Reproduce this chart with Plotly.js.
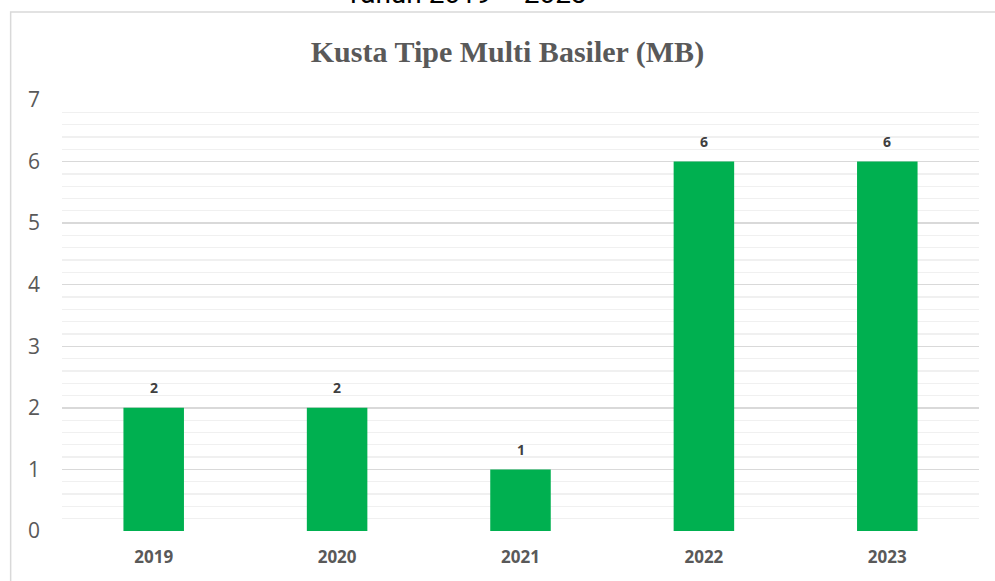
<!DOCTYPE html>
<html><head><meta charset="utf-8">
<script src="https://cdn.plot.ly/plotly-3.0.1.min.js"></script>
<style>html,body{margin:0;padding:0;background:#fff}#c{width:995px;height:581px}</style>
</head><body><div id="c"></div>
<script>
const years = ['2019','2020','2021','2022','2023'];
const cases = [2, 2, 1, 6, 6];
const yTicks = [0,1,2,3,4,5,6,7];

const trace = {
  type:'bar', x: years, y: cases,
  marker:{color:'#00b050'}, width:0.33, hoverinfo:'none'
};
const ann = years.map((yr,i)=>({
  x: i, y: cases[i], xref:'x', yref:'y', text: String(cases[i]), showarrow:false,
  yshift: 20, font:{family:'Open Sans, sans-serif', size:14, color:'#404040', weight:700}
}));
ann.push({xref:'paper', yref:'paper', x:0.4406, y:1.0, xanchor:'center', yanchor:'middle',
  yshift:107, text:'Tahun 2019 \u2013 2023', showarrow:false,
  font:{family:'Roboto, Arial, sans-serif', size:28, color:'#000'}});

const layout = {
  width:995, height:581,
  margin:{l:62, r:16, t:100, b:50},
  paper_bgcolor:'#fff', plot_bgcolor:'#fff',
  title:{text:'<b>Kusta Tipe Multi Basiler (MB)</b>', x:0.51, xanchor:'center', y:0.912, yanchor:'middle',
    font:{family:'Liberation Serif, serif', size:30, color:'#595959'}},
  xaxis:{type:'category', showline:false, ticks:'', showgrid:false, zeroline:false,
    tickfont:{family:'Open Sans, sans-serif', size:17, color:'#595959', weight:700}, ticklabelstandoff:14},
  yaxis:{range:[0,7], tickvals:yTicks, showline:false, ticks:'', zeroline:false,
    gridcolor:'#d9d9d9', gridwidth:1.3,
    minor:{dtick:0.2, showgrid:true, gridcolor:'#f0f0f0', gridwidth:1.3},
    tickfont:{family:'Open Sans, sans-serif', size:21, color:'#595959'}, ticklabelstandoff:21},
  shapes:[{type:'rect', xref:'paper', yref:'paper', x0:-0.056, x1:1.1, y0:-0.2, y1:1.204,
    line:{color:'#d9d9d9', width:1.5}, fillcolor:'rgba(0,0,0,0)', layer:'below'}],
  annotations: ann,
  showlegend:false
};
Plotly.newPlot('c',[trace],layout,{displayModeBar:false, staticPlot:true});
</script></body></html>
